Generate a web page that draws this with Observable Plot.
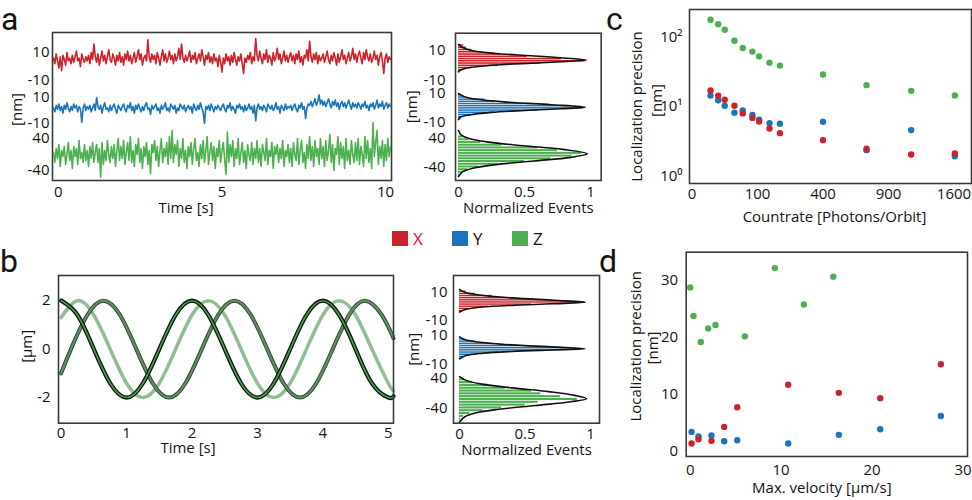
<!DOCTYPE html>
<html><head><meta charset="utf-8">
<script src="https://cdn.jsdelivr.net/npm/d3@7"></script>
<script src="https://cdn.jsdelivr.net/npm/@observablehq/plot@0.6"></script>
<style>
body{margin:0;background:#fff;}
#root{position:relative;width:972px;height:500px;overflow:hidden;font-family:'Open Sans',sans-serif;color:#141414;background:#fff;}
.letter{position:absolute;font-family:Roboto,'Open Sans',sans-serif;font-size:32px;line-height:normal;}
.leg{position:absolute;display:flex;align-items:center;font-size:17px;line-height:normal;}
.sw{width:16px;height:15px;margin-right:5px;}
</style></head><body><div id="root"></div>
<script>
// ---------- DATA ----------
const seriesNames = ["X", "Y", "Z"];
const seriesColors = ["#cc2229", "#1b75bb", "#4cb050"];

// panel a: position traces (nm) sampled evenly over the shown time window (s)
const traceStart = -0.15, traceEnd = 10.15;
const traceX = [
 6,2,9,4,-1,7,-3,8,5,1,10,4,6,2,8,3,7,11,4,6,0,9,5,3,7,
 4,8,2,10,5,16,7,3,9,1,6,11,4,8,2,7,12,5,3,9,6,1,8,4,10,
 3,7,1,9,5,11,4,8,2,6,10,3,7,12,5,9,1,6,8,4,19,7,3,9,5,
 8,2,10,6,1,7,12,4,9,3,6,11,5,8,2,9,4,7,13,5,16,6,3,8,4,
 7,11,3,8,5,10,2,6,9,4,12,7,1,8,5,10,3,7,2,9,4,6,0,8,3,
 -4,6,2,9,4,7,1,8,3,10,5,1,7,4,9,2,-5,6,3,8,5,10,2,7,4,
 20,8,4,11,6,2,9,5,12,3,8,6,1,10,4,7,13,5,9,2,6,11,4,8,3,
 7,10,4,8,2,9,5,11,3,7,1,8,6,12,4,18,7,3,9,5,10,2,8,4,6,
 9,3,7,11,5,2,8,4,10,6,1,9,3,7,12,5,8,2,6,10,4,7,13,5,9,
 3,8,11,6,2,10,5,12,7,4,9,3,6,11,5,8,1,7,10,4,-5,6,9,3,7,5];
const traceY = [
 2,-1,4,1,5,0,3,-2,4,1,6,2,-1,3,0,5,2,4,-1,3,1,-9,2,5,0,
 3,1,4,-1,2,5,0,10,3,1,4,-2,3,6,1,2,-1,4,0,3,5,1,-2,4,2,
 0,3,5,1,-1,4,2,6,0,3,-2,4,1,5,2,-1,3,0,4,6,1,2,-3,4,1,
 3,5,0,2,-2,4,1,3,6,0,2,-1,5,3,1,4,-2,2,0,5,3,1,4,-1,2,
 4,1,3,-2,5,2,0,4,1,6,2,-1,-10,3,1,4,0,5,2,-1,3,1,4,2,0,
 3,5,1,-1,4,2,6,0,3,1,-2,4,2,5,1,3,-1,4,0,2,5,1,3,-2,4,
 -8,2,5,1,3,0,4,2,-1,5,3,1,4,0,2,6,1,3,-2,4,2,0,5,1,3,
 2,4,0,3,5,1,-1,4,2,6,1,3,-6,2,5,4,7,3,6,9,4,7,12,5,8,
 4,7,3,6,9,5,2,7,4,8,3,6,1,5,7,3,6,2,5,8,4,1,6,3,5,
 2,6,4,1,5,3,7,2,4,0,5,3,6,1,4,8,2,5,3,7,1,4,6,2,5,3];
const traceZ = [
 5,-20,15,-10,25,-30,10,-5,20,-25,0,30,-15,10,-35,20,-5,15,-25,35,-10,5,-20,25,-15,
 10,-30,20,-10,30,-20,5,25,-20,15,-57,30,-25,10,-15,35,0,-20,20,-10,25,-30,10,40,-15,
 20,-10,35,-25,5,30,-15,45,-20,10,-30,25,0,40,-20,15,-35,20,-5,30,-25,10,-48,25,5,
 35,-15,20,-30,10,40,-20,15,-5,30,-25,45,-10,60,-20,25,0,35,-30,15,-10,40,-20,10,-35,
 20,-5,30,-25,15,40,-15,5,-30,25,-10,35,-20,10,45,-25,5,30,-15,20,-35,15,-5,35,-20,
 10,30,-15,-50,56,-20,25,-5,35,-30,15,-10,40,-25,5,30,-20,10,-35,25,0,-15,30,-25,15,
 -10,35,-20,15,-30,25,5,-15,40,-25,10,-5,30,-35,20,0,25,-20,15,-10,35,-30,10,-5,25,
 -20,15,-30,30,0,-15,40,-25,10,35,-20,5,-35,25,-10,45,-15,20,-30,35,-5,15,-25,40,-10,
 20,-30,35,-15,10,50,-20,25,-40,15,0,45,-25,30,-10,20,-35,40,-15,10,-25,35,0,-20,30,
 -15,40,-25,20,0,-30,45,-10,35,-20,15,-35,80,-5,30,60,-25,20,-10,35,-30,25,-15,40,-5,20];

// histograms panel a (bin centre nm, normalized events) and fitted curves
const binsXa_nm = [13.5,12,10.5,9,7.5,6,4.5,3,1.5,0,-1.5,-3,-4.5];
const binsXa = [0.04,0.06,0.1,0.18,0.32,0.52,0.78,0.96,0.62,0.3,0.1,0.03,0.01];
const fitXa_nm = [14,12,10,8,6.5,5,3.6,2.5,1.5,0.5,-1,-2.5,-4];
const fitXa = [0,0.03,0.1,0.28,0.55,0.8,0.97,0.78,0.55,0.32,0.12,0.03,0];
const binsYa_nm = [9,7.5,6,4.5,3,1.5,0,-1.5,-3,-4.5,-6,-7.5];
const binsYa = [0.02,0.05,0.2,0.28,0.55,0.85,0.95,0.6,0.28,0.1,0.04,0.02];
const fitYa_nm = [10,8,6,4,2.3,0.55,-0.5,-1.7,-3,-4.8,-6.5,-8];
const fitYa = [0,0.04,0.14,0.38,0.7,0.96,0.78,0.5,0.25,0.08,0.01,0];
const binsZa_nm = [45,37.5,30,22.5,15,7.5,0,-7.5,-15,-22.5,-30,-37.5,-45,-52.5,-60];
const binsZa = [0.03,0.08,0.17,0.33,0.6,0.75,0.93,0.86,0.7,0.5,0.3,0.15,0.07,0.03,0.01];
const fitZa_nm = [62,50,40,30,20,10,-2.2,-12,-22,-32,-42,-52,-65];
const fitZa = [0,0.02,0.08,0.23,0.49,0.79,0.975,0.85,0.57,0.28,0.11,0.03,0];

// panel b: sinusoidal trajectories (s, µm)
const sineT_A = [0,0.25,0.5,0.75,1,1.25,1.5,1.75,2,2.25,2.5,2.75,3,3.25,3.5,3.75,4,4.25,4.5,4.75,5,5.08];
const sineA = [2,1.41,0,-1.41,-2,-1.41,0,1.41,2,1.41,0,-1.41,-2,-1.41,0,1.41,2,1.41,0,-1.41,-2,-1.94];
const sineT_B = [0,0.15,0.4,0.65,0.9,1.15,1.4,1.65,1.9,2.15,2.4,2.65,2.9,3.15,3.4,3.65,3.9,4.15,4.4,4.65,4.9,5.08];
const sineB = [-1.0,0,1.41,2,1.41,0,-1.41,-2,-1.41,0,1.41,2,1.41,0,-1.41,-2,-1.41,0,1.41,2,1.41,0.45];
const sineT_C = [0,0.25,0.5,0.75,1,1.25,1.5,1.75,2,2.25,2.5,2.75,3,3.25,3.5,3.75,4,4.25,4.5,4.75,5,5.08];
const sineC = [1.3,2,1.41,0,-1.41,-2,-1.41,0,1.41,2,1.41,0,-1.41,-2,-1.41,0,1.41,2,1.41,0,-1.41,-1.72];

// histograms panel b
const binsXb_nm = [10.5,9,7.5,6,4.5,3,1.5,0,-1.5,-3];
const binsXb = [0.05,0.12,0.25,0.42,0.68,0.95,0.55,0.22,0.07,0.02];
const fitXb_nm = [12,10,8,6,4.3,2.9,1.8,0.8,-0.5,-2,-4];
const fitXb = [0,0.04,0.15,0.4,0.72,0.96,0.7,0.42,0.17,0.05,0];
const binsYb_nm = [7.5,6,4.5,3,1.5,0,-1.5,-3,-4.5,-6];
const binsYb = [0.04,0.12,0.25,0.45,0.85,0.72,0.3,0.13,0.04,0.01];
const fitYb_nm = [9,7.5,6,4.5,3,2,0.8,0,-1,-2.2,-3.8,-6];
const fitYb = [0,0.03,0.1,0.25,0.5,0.75,0.96,0.7,0.4,0.18,0.05,0];
const binsZb_nm = [37.5,30,22.5,15,7.5,0,-7.5,-15,-22.5,-30,-37.5,-45,-52.5,-60,-67.5];
const binsZb = [0.04,0.1,0.2,0.35,0.55,0.62,0.77,0.9,0.6,0.5,0.32,0.18,0.08,0.03,0.01];
const fitZb_nm = [45,35,25,15,5,-5,-14,-22,-32,-42,-52,-62,-76];
const fitZb = [0,0.05,0.17,0.4,0.68,0.88,0.97,0.85,0.58,0.3,0.12,0.04,0];

// panel c: precision vs countrate
const countrate = [8,16,25,42,60,85,105,140,180,400,710,1120,1610];
const precCX = [17.1,14.4,12.6,10.3,8.0,6.9,6.1,4.86,4.16,3.3,2.48,2.05,2.12];
const precCY = [14.5,12.4,10.3,8.2,8.8,7.6,6.5,5.8,5.7,6.07,2.37,4.6,1.94];
const precCZ = [178,154,128,89,70,62,53,43,39,29,20.4,16.9,14.5];
const logTickLabels = ["10⁰","10¹","10²"];

// panel d: precision vs max velocity
const velXY = [0.15,0.91,2.34,3.74,5.17,10.78,16.35,20.9,27.57];
const precDX = [1.35,2.11,1.82,4.28,7.74,11.7,10.26,9.32,15.3];
const precDY = [3.4,2.58,2.76,1.76,1.94,1.35,2.88,3.87,6.2];
const velZ = [0,0.36,1.17,1.98,2.78,6.01,9.31,12.5,15.73];
const precDZ = [28.8,23.8,19.2,21.6,22.2,20.2,32.2,25.8,30.7];

// ---------- DRAWING ----------
const root = document.getElementById("root");
const FONT = "'Open Sans', sans-serif";
const FRAME = "#3a3a3a";
const FS = 15;
const style = {fontFamily: FONT, fontSize: FS + "px", color: "#141414", background: "transparent", overflow: "visible"};
function put(node, left, top) {
  node.style.position = "absolute"; node.style.left = left + "px"; node.style.top = top + "px";
  root.appendChild(node);
}
const fmt = d => String(d);
function label(text, anchor, dx, dy, rotate = 0) {
  return Plot.text([text], {text: d => d, frameAnchor: anchor, dx, dy, rotate, textAnchor: "middle", lineAnchor: "middle", fontSize: FS, fill: "#141414"});
}

// stacked panel: three overlapping plots sharing x, each with its own y scale
function stacked(pos, xOpts, layers) {
  layers.forEach((L, i) => {
    const marks = [...L.marks];
    if (i === 0) marks.push(Plot.frame({stroke: FRAME, strokeWidth: 1.6}), ...pos.extra);
    const svg = Plot.plot({
      width: pos.width, height: pos.height,
      marginLeft: pos.mL, marginRight: pos.mR, marginTop: pos.mT, marginBottom: pos.mB,
      x: i === 0 ? {...xOpts, tickSize: 0, tickFormat: fmt, label: null} : {domain: xOpts.domain, axis: null},
      y: {domain: L.domain, ticks: L.ticks, tickSize: 0, tickPadding: pos.yPad, tickFormat: fmt, label: null},
      style, marks
    });
    put(svg, pos.left, pos.top);
  });
}

// panel a left: traces
const traceArr = [traceX, traceY, traceZ];
const traceDomains = [[-81.4, 24.3], [-53.8, 60], [-65, 305]];
const traceTicks = [[10, -10], [10, -10], [40, -40]];
stacked(
  {left: 0, top: 0, width: 400, height: 230, mL: 52, mR: 9, mT: 32, mB: 50, yPad: 3,
   extra: [label("Time [s]", "bottom", -36, 28), label("[nm]", "left", -35, 3, -90)]},
  {domain: [-0.18, 10.18], ticks: [0, 5, 10], tickPadding: 6},
  traceArr.map((vals, s) => ({
    domain: traceDomains[s], ticks: traceTicks[s],
    marks: [Plot.line(vals.map((v, k) => ({t: traceStart + k * (traceEnd - traceStart) / (vals.length - 1), v})),
      {x: "t", y: "v", stroke: seriesColors[s], strokeWidth: 1.6})]
  }))
);

// histogram panels
function histLayers(binsNm, bins, fitNm, fit, domains, binW) {
  return [0, 1, 2].map(s => ({
    domain: domains[s], ticks: traceTicks[s],
    marks: [
      Plot.rect(bins[s].map((v, k) => ({c: binsNm[s][k], v})),
        {x1: 0, x2: "v", y1: d => d.c - binW[s] / 2, y2: d => d.c + binW[s] / 2, fill: seriesColors[s], insetTop: 0.7}),
      Plot.line(fit[s].map((v, k) => ({c: fitNm[s][k], v})),
        {x: "v", y: "c", stroke: "#111", strokeWidth: 1.6, curve: "catmull-rom"})
    ]
  }));
}
const binWidths = [1.5, 1.5, 7.5];
stacked(
  {left: 390, top: 0, width: 220, height: 230, mL: 65, mR: 9.3, mT: 32.7, mB: 50, yPad: 10,
   extra: [label("Normalized Events", "bottom", 0, 28), label("[nm]", "left", -43.5, 0, -90)]},
  {domain: [-0.0227, 1.081], ticks: [0, 0.5, 1], tickPadding: 6},
  histLayers([binsXa_nm, binsYa_nm, binsZa_nm], [binsXa, binsYa, binsZa],
             [fitXa_nm, fitYa_nm, fitZa_nm], [fitXa, fitYa, fitZa],
             [[-76.7, 21.5], [-50, 51.6], [-75.8, 330.5]], binWidths)
);
stacked(
  {left: 390, top: 240, width: 220, height: 230, mL: 63, mR: 11, mT: 35, mB: 47.3, yPad: 6,
   extra: [label("Normalized Events", "bottom", 0, 27), label("[nm]", "left", -39, 0, -90)]},
  {domain: [-0.046, 1.069], ticks: [0, 0.5, 1], tickPadding: 5},
  histLayers([binsXb_nm, binsYb_nm, binsZb_nm], [binsXb, binsYb, binsZb],
             [fitXb_nm, fitYb_nm, fitZb_nm], [fitXb, fitYb, fitZb],
             [[-82.6, 21.8], [-50.5, 51.4], [-79.2, 314.7]], binWidths)
);

// panel b left: sinusoids
{
  const pts = (T, V) => T.map((t, k) => ({t, v: V[k]}));
  const A = pts(sineT_A, sineA), B = pts(sineT_B, sineB), C = pts(sineT_C, sineC);
  const svg = Plot.plot({
    width: 400, height: 230, marginLeft: 58, marginRight: 7, marginTop: 35, marginBottom: 47.3,
    x: {domain: [-0.04, 5.08], ticks: [0, 1, 2, 3, 4, 5], tickSize: 0, tickPadding: 4, tickFormat: fmt, label: null},
    y: {domain: [-3.06, 3.04], ticks: [-2, 0, 2], tickSize: 0, tickPadding: 8, tickFormat: fmt, label: null},
    style,
    marks: [
      Plot.line(C, {x: "t", y: "v", stroke: "#b0b0b0", strokeWidth: 3.6, curve: "natural"}),
      Plot.line(C, {x: "t", y: "v", stroke: "#82c684", strokeWidth: 1.9, curve: "natural"}),
      Plot.line(B, {x: "t", y: "v", stroke: "#3a3d3a", strokeWidth: 4, curve: "natural"}),
      Plot.line(B, {x: "t", y: "v", stroke: "#5a925c", strokeWidth: 2.2, curve: "natural"}),
      Plot.line(A, {x: "t", y: "v", stroke: "#111", strokeWidth: 4.2, curve: "natural"}),
      Plot.line(A, {x: "t", y: "v", stroke: "#44a048", strokeWidth: 1.6, curve: "natural"}),
      Plot.frame({stroke: FRAME, strokeWidth: 1.6}),
      label("Time [s]", "bottom", -38, 25),
      label("[µm]", "left", -31.5, -3, -90)
    ]
  });
  put(svg, 0, 240);
}

// panel c
{
  const mk = (Y) => countrate.map((x, k) => ({x, y: Y[k]}));
  const svg = Plot.plot({
    width: 372, height: 240, marginLeft: 89, marginRight: 1, marginTop: 9, marginBottom: 57, insetLeft: 2.5,
    x: {type: "sqrt", domain: [0, 1821], ticks: [0, 100, 400, 900, 1600], tickSize: 0, tickPadding: 5, tickFormat: fmt, label: null},
    y: {type: "log", domain: [0.785, 250], ticks: [1, 10, 100], tickSize: 0, tickPadding: 7,
        tickFormat: d => logTickLabels[Math.round(Math.log10(d))], label: null},
    style,
    marks: [
      Plot.dot(mk(precCZ), {x: "x", y: "y", r: 3.2, fill: seriesColors[2]}),
      Plot.dot(mk(precCY), {x: "x", y: "y", r: 3.2, fill: seriesColors[1]}),
      Plot.dot(mk(precCX), {x: "x", y: "y", r: 3.2, fill: seriesColors[0]}),
      Plot.frame({stroke: FRAME, strokeWidth: 1.6}),
      label("Countrate [Photons/Orbit]", "bottom", 4, 34),
      label("Localization precision", "left", -52, 10, -90),
      label("[nm]", "left", -32, 4, -90)
    ]
  });
  put(svg, 600, 0);
}

// panel d
{
  const svg = Plot.plot({
    width: 372, height: 260, marginLeft: 87.7, marginRight: 3, marginTop: 11.7, marginBottom: 44,
    x: {domain: [-0.44, 30.5], ticks: [0, 10, 20, 30], tickSize: 0, tickPadding: 8, tickFormat: fmt, label: null},
    y: {domain: [-0.93, 35], ticks: [0, 10, 20, 30], tickSize: 0, tickPadding: 8, tickFormat: fmt, label: null},
    style,
    marks: [
      Plot.dot(velZ.map((x, k) => ({x, y: precDZ[k]})), {x: "x", y: "y", r: 3.2, fill: seriesColors[2]}),
      Plot.dot(velXY.map((x, k) => ({x, y: precDY[k]})), {x: "x", y: "y", r: 3.2, fill: seriesColors[1]}),
      Plot.dot(velXY.map((x, k) => ({x, y: precDX[k]})), {x: "x", y: "y", r: 3.2, fill: seriesColors[0]}),
      Plot.frame({stroke: FRAME, strokeWidth: 1.6}),
      label("Max. velocity [µm/s]", "bottom", -5, 32),
      label("Localization precision", "left", -50, -8, -90),
      label("[nm]", "left", -33, -6.4, -90)
    ]
  });
  put(svg, 597.5, 240);
}

// panel letters
[["a", 1, 0], ["b", 0, 242], ["c", 606, 0], ["d", 599, 242]].forEach(([t, x, y]) => {
  const d = document.createElement("div"); d.className = "letter"; d.textContent = t;
  d.style.left = x + "px"; d.style.top = y + "px"; root.appendChild(d);
});

// legend
seriesNames.forEach((name, s) => {
  const g = document.createElement("div"); g.className = "leg";
  g.style.left = (392 + s * 60) + "px"; g.style.top = "227px";
  const sw = document.createElement("div"); sw.className = "sw"; sw.style.background = seriesColors[s];
  const tx = document.createElement("span"); tx.textContent = name; tx.style.color = s === 0 ? seriesColors[0] : "#141414";
  g.append(sw, tx); root.appendChild(g);
});
</script></body></html>
